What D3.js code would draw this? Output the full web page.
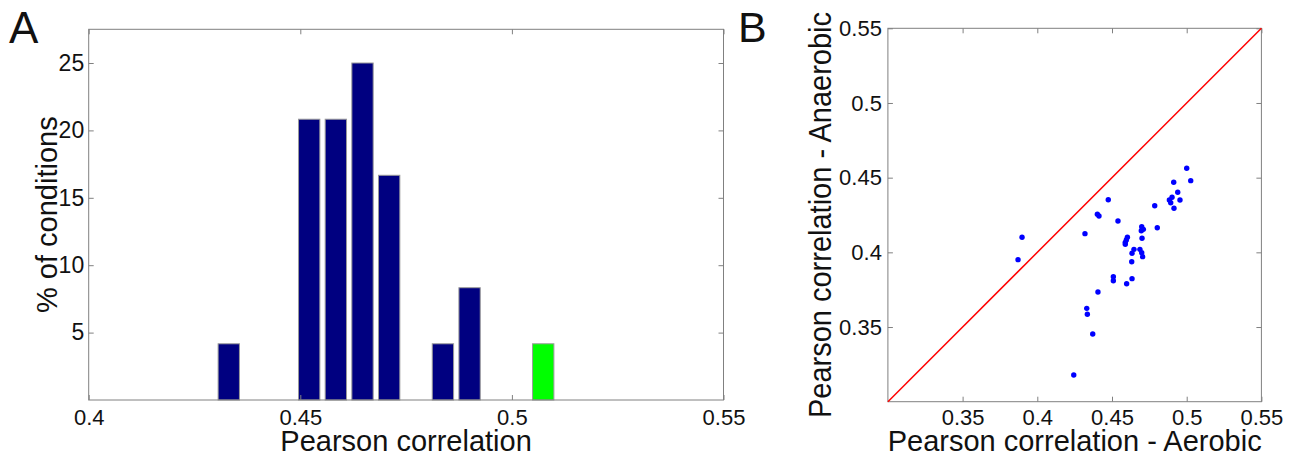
<!DOCTYPE html>
<html>
<head>
<meta charset="utf-8">
<script src="https://cdn.jsdelivr.net/npm/d3@7/dist/d3.min.js"></script>
<style>
  html, body { margin: 0; padding: 0; background: #fff; }
  svg { display: block; }
  text { font-family: "Liberation Sans", Arial, Helvetica, sans-serif; fill: #111; }
</style>
</head>
<body>
<svg id="chart" width="1292" height="457"></svg>
<script>
// ---- Panel A data: histogram of Pearson correlations ----
const histBinCenters = [0.4331, 0.4521, 0.4584, 0.4647, 0.4710, 0.4837, 0.4900];
const histPercent    = [4.17, 20.83, 20.83, 25.0, 16.67, 4.17, 8.33];
const highlightCenter  = [0.5074];
const highlightPercent = [4.17];
const histXTicks = [0.4, 0.45, 0.5, 0.55];
const histYTicks = [5, 10, 15, 20, 25];

// ---- Panel B data: aerobic vs anaerobic correlations ----
const aerobic = [
  0.5000, 0.5027, 0.4913, 0.4940, 0.4884, 0.4902, 0.4893, 0.4915, 0.4955,
  0.4786, 0.4803, 0.4475, 0.4402, 0.4413, 0.4540, 0.4319, 0.4699, 0.4710,
  0.4696, 0.4701, 0.4603, 0.4596, 0.4589, 0.4589, 0.4647, 0.4634, 0.4632,
  0.4687, 0.4699, 0.4705, 0.4509, 0.4509, 0.4634, 0.4598, 0.4406, 0.3898,
  0.3871, 0.4331, 0.4335, 0.4371, 0.4244
];
const anaerobic = [
  0.4563, 0.4480, 0.4469, 0.4402, 0.4350, 0.4369, 0.4332, 0.4295, 0.4350,
  0.4312, 0.4165, 0.4352, 0.4255, 0.4243, 0.4210, 0.4125, 0.4172, 0.4154,
  0.4145, 0.4094, 0.4101, 0.4083, 0.4067, 0.4054, 0.4020, 0.3994, 0.3937,
  0.4020, 0.3998, 0.3971, 0.3837, 0.3810, 0.3824, 0.3790, 0.3734, 0.4101,
  0.3951, 0.3625, 0.3585, 0.3453, 0.3179
];
const scatterTicks = [0.35, 0.4, 0.45, 0.5, 0.55];
const diagonal = [0.3, 0.55];

const svg = d3.select("#chart");
const axisColor = "#808080";

function frame(g, x, y, xTicks, yTicks, xFmt, yFmt, xPad, yPad, xFont, yFont) {
  const [x0, x1] = x.range();
  const [y0, y1] = y.range();
  const bottom = g.append("g").attr("transform", `translate(0,${y0})`)
    .call(d3.axisBottom(x).tickValues(xTicks).tickSizeInner(-5).tickSizeOuter(0).tickPadding(xPad).tickFormat(xFmt));
  const top = g.append("g").attr("transform", `translate(0,${y1})`)
    .call(d3.axisTop(x).tickValues(xTicks).tickSizeInner(-5).tickSizeOuter(0).tickFormat(""));
  const left = g.append("g").attr("transform", `translate(${x0},0)`)
    .call(d3.axisLeft(y).tickValues(yTicks).tickSizeInner(-5).tickSizeOuter(0).tickPadding(yPad).tickFormat(yFmt));
  const right = g.append("g").attr("transform", `translate(${x1},0)`)
    .call(d3.axisRight(y).tickValues(yTicks).tickSizeInner(-5).tickSizeOuter(0).tickFormat(""));
  [bottom, top, left, right].forEach(a => {
    a.select(".domain").remove();
    a.selectAll(".tick line").attr("stroke", axisColor);
  });
  bottom.selectAll("text").attr("font-size", xFont).attr("fill", "#111").attr("font-family", null);
  left.selectAll("text").attr("font-size", yFont).attr("fill", "#111").attr("font-family", null);
  g.append("rect")
    .attr("x", x0).attr("y", y1).attr("width", x1 - x0).attr("height", y0 - y1)
    .attr("fill", "none").attr("stroke", axisColor).attr("stroke-width", 1);
}

// ================= Panel A =================
const gA = svg.append("g");
const xA = d3.scaleLinear().domain([0.4, 0.55]).range([88.7, 723.5]);
const yA = d3.scaleLinear().domain([0, 27.5]).range([400, 29.3]);

const spacing = d3.median(d3.pairs(histBinCenters).map(([a, b]) => b - a));
const barW = 0.8 * spacing;

gA.selectAll("rect.bar").data(histBinCenters.map((c, i) => ({c, v: histPercent[i]})))
  .join("rect").attr("class", "bar")
  .attr("x", d => xA(d.c - barW / 2))
  .attr("width", d => xA(d.c + barW / 2) - xA(d.c - barW / 2))
  .attr("y", d => yA(d.v))
  .attr("height", d => yA(0) - yA(d.v))
  .attr("fill", "#000080").attr("stroke", "#9a9a9a").attr("stroke-width", 1);

gA.selectAll("rect.hl").data(highlightCenter.map((c, i) => ({c, v: highlightPercent[i]})))
  .join("rect").attr("class", "hl")
  .attr("x", d => xA(d.c - barW / 2))
  .attr("width", d => xA(d.c + barW / 2) - xA(d.c - barW / 2))
  .attr("y", d => yA(d.v))
  .attr("height", d => yA(0) - yA(d.v))
  .attr("fill", "#00ff00").attr("stroke", "#9a9a9a").attr("stroke-width", 1);

frame(gA, xA, yA, histXTicks, histYTicks, d3.format(""), d3.format("d"), 9, 4.5, 22, 23);

gA.append("text").attr("x", (88.7 + 723.5) / 2).attr("y", 451)
  .attr("text-anchor", "middle").attr("font-size", 29).text("Pearson correlation");
gA.append("text").attr("transform", `translate(57,${(29.3 + 400) / 2}) rotate(-90)`)
  .attr("text-anchor", "middle").attr("font-size", 29).text("% of conditions");
gA.append("text").attr("x", 9).attr("y", 43).attr("font-size", 44).text("A");

// ================= Panel B =================
const gB = svg.append("g");
const xB = d3.scaleLinear().domain([0.3, 0.55]).range([887.9, 1261.4]);
const yB = d3.scaleLinear().domain([0.3, 0.55]).range([401.7, 28.3]);

frame(gB, xB, yB, scatterTicks, scatterTicks, d3.format(""), d3.format(""), 7.5, 6, 22, 22);

gB.append("line")
  .attr("x1", xB(diagonal[0])).attr("y1", yB(diagonal[0]))
  .attr("x2", xB(diagonal[1])).attr("y2", yB(diagonal[1]))
  .attr("stroke", "#ff0000").attr("stroke-width", 1.5);

gB.selectAll("circle").data(aerobic.map((a, i) => [a, anaerobic[i]]))
  .join("circle")
  .attr("cx", d => xB(d[0])).attr("cy", d => yB(d[1])).attr("r", 2.7)
  .attr("fill", "#0000ff");

gB.append("text").attr("x", (887.9 + 1261.4) / 2).attr("y", 451)
  .attr("text-anchor", "middle").attr("font-size", 29).text("Pearson correlation - Aerobic");
gB.append("text").attr("transform", `translate(831,${(28.3 + 401.7) / 2}) scale(1.1,1) rotate(-90)`)
  .attr("text-anchor", "middle").attr("font-size", 29).text("Pearson correlation - Anaerobic");
gB.append("text").attr("x", 738).attr("y", 42).attr("font-size", 43).text("B");
</script>
</body>
</html>
